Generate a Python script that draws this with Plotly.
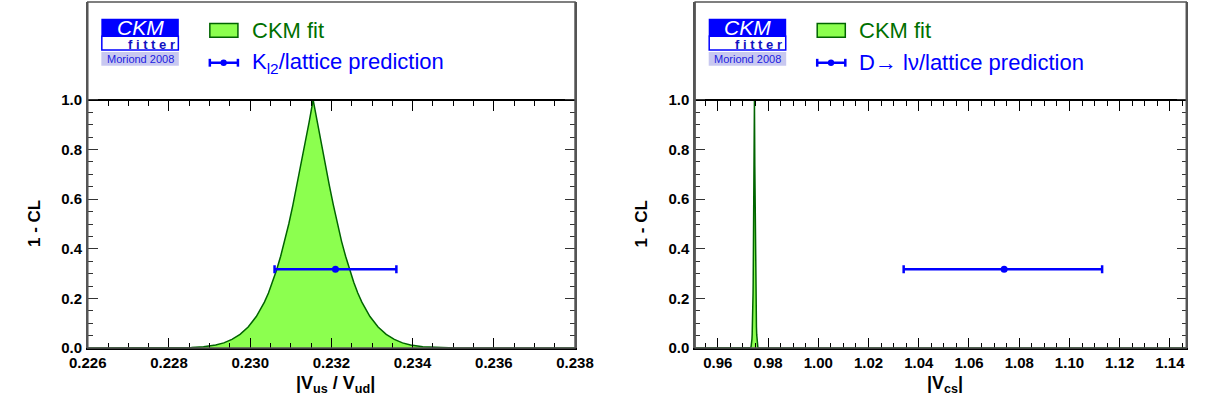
import plotly.graph_objects as go

W, H = 1214, 409

# ---------------- data ----------------
# Left panel: |Vus/Vud|, CKM fit 1-CL profile
fit_left_x = [0.2260, 0.22805, 0.22855, 0.22885, 0.22915, 0.22935, 0.22955, 0.22975, 0.22995,
              0.23015, 0.23035, 0.23045, 0.23055, 0.23065, 0.23075, 0.23085, 0.23095, 0.23105,
              0.23115, 0.23125, 0.23135, 0.23145, 0.23155, 0.23165, 0.23175, 0.23185, 0.23195,
              0.23205, 0.23215, 0.23225, 0.23235, 0.23245, 0.23255, 0.23265, 0.23275, 0.23295,
              0.23315, 0.23335, 0.23355, 0.23375, 0.23395, 0.23425, 0.23455, 0.23505, 0.2380]
fit_left_y = [0.0, 0.0, 0.002, 0.005, 0.012, 0.021, 0.035, 0.055, 0.085,
              0.127, 0.185, 0.222, 0.265, 0.315, 0.37, 0.43, 0.50, 0.575,
              0.655, 0.735, 0.82, 0.91, 1.0, 0.91, 0.82, 0.735, 0.655,
              0.575, 0.50, 0.43, 0.37, 0.315, 0.265, 0.222, 0.185, 0.127,
              0.085, 0.055, 0.035, 0.021, 0.012, 0.005, 0.002, 0.0, 0.0]

# Right panel: |Vcs|, CKM fit 1-CL profile (very narrow)
fit_right_x = [0.951, 0.97285, 0.97310, 0.97325, 0.97340, 0.97350, 0.97360, 0.97370, 0.97380,
               0.97390, 0.97400, 0.97405, 0.97410, 0.97415, 0.97420, 0.97425, 0.97430, 0.97435,
               0.97440, 0.97445, 0.97450, 0.97455, 0.97460, 0.97465, 0.97470, 0.97475, 0.97480,
               0.97485, 0.97490, 0.97495, 0.97500, 0.97505, 0.97510, 0.97515, 0.97520, 0.97530,
               0.97540, 0.97550, 0.97560, 0.97570, 0.97580, 0.97595, 0.97610, 0.97635, 1.1465]
fit_right_y = [0.0, 0.0, 0.002, 0.005, 0.012, 0.021, 0.035, 0.055, 0.085,
               0.127, 0.185, 0.222, 0.265, 0.315, 0.37, 0.43, 0.50, 0.575,
               0.655, 0.735, 0.82, 0.91, 1.0, 0.91, 0.82, 0.735, 0.655,
               0.575, 0.50, 0.43, 0.37, 0.315, 0.265, 0.222, 0.185, 0.127,
               0.085, 0.055, 0.035, 0.021, 0.012, 0.005, 0.002, 0.0, 0.0]

# Predictions (central value, lower, upper) drawn at 1-CL = 0.3173
pred_level = 0.3173
pred_left = [0.2321, 0.2306, 0.2336]
pred_right = [1.0740, 1.0340, 1.1130]

left_range = [0.226, 0.238]
right_range = [0.951, 1.1465]
left_major = [0.226, 0.228, 0.230, 0.232, 0.234, 0.236, 0.238]
left_minor = [round(0.226 + 0.0005 * i, 4) for i in range(25)]
right_major = [0.96, 0.98, 1.00, 1.02, 1.04, 1.06, 1.08, 1.10, 1.12, 1.14]
right_minor = [round(0.955 + 0.005 * i, 3) for i in range(39)]
y_major = [0.0, 0.2, 0.4, 0.6, 0.8, 1.0]
y_minor = [round(0.05 * i, 2) for i in range(21)]
y_top = 1.395

legend_fit = "CKM fit"
legend_pred_left = "K<sub>l2</sub>/lattice prediction"
legend_pred_right = "D\u2192 l\u03bd/lattice prediction"
xtitle_left = "|V<sub>us</sub> / V<sub>ud</sub>|"
xtitle_right = "|V<sub>cs</sub>|"
ytitle = "1 - CL"

# ---------------- style ----------------
GREEN_FILL = "#8cff4f"
GREEN_LINE = "#006400"
GREEN_TEXT = "#007000"
BLUE = "#0000ff"
FONT = "Liberation Sans"


def px(X):
    return X / W


def py(Y):
    return 1 - Y / H


panels = [
    dict(x0=71, x1=574, rng=left_range, major=left_major, minor=left_minor, fmt="%.3f",
         fx=fit_left_x, fy=fit_left_y, pred=pred_left, leg=legend_pred_left, xt=xtitle_left),
    dict(x0=698, x1=1205, rng=right_range, major=right_major, minor=right_minor, fmt="%.2f",
         fx=fit_right_x, fy=fit_right_y, pred=pred_right, leg=legend_pred_right, xt=xtitle_right),
]

Y0, YTOP = 355, 2
fig = go.Figure()
layout = dict(width=W, height=H, margin=dict(l=0, r=0, t=0, b=0),
              paper_bgcolor="white", plot_bgcolor="white", showlegend=False)
shapes, annotations = [], []
tickfont = dict(family=FONT, size=15, color="black", weight="bold")

for i, p in enumerate(panels):
    n = i + 1
    xa = "x" if n == 1 else "x%d" % n
    ya = "y" if n == 1 else "y%d" % n
    xtop = "x%d" % (n + 2)
    dom_x = [px(p["x0"]), px(p["x1"])]
    dom_y = [py(Y0), py(YTOP)]
    pos_top = py(Y0) + (py(YTOP) - py(Y0)) * (1.0 / y_top)

    layout["xaxis" if n == 1 else "xaxis%d" % n] = dict(
        domain=dom_x, range=p["rng"], anchor=ya, tickvals=p["major"],
        ticktext=[p["fmt"] % v for v in p["major"]], ticks="inside", ticklen=10,
        tickwidth=1, tickcolor="black", showline=True, linecolor="black", linewidth=1.5,
        showgrid=False, zeroline=False, tickfont=tickfont, ticklabelstandoff=0,
        minor=dict(tickvals=p["minor"], ticks="inside", ticklen=5, tickcolor="black", showgrid=False))
    layout["xaxis%d" % (n + 2)] = dict(
        overlaying=xa, anchor="free", position=pos_top, side="top", range=p["rng"],
        tickvals=p["major"], ticks="inside", ticklen=10, tickwidth=1, tickcolor="black",
        showticklabels=False, showline=True, linecolor="black", linewidth=1.5,
        showgrid=False, zeroline=False,
        minor=dict(tickvals=p["minor"], ticks="inside", ticklen=5, tickcolor="black", showgrid=False))
    layout["yaxis" if n == 1 else "yaxis%d" % n] = dict(
        domain=dom_y, range=[0, y_top], anchor=xa, tickvals=y_major,
        ticktext=["%.1f" % v for v in y_major], ticks="inside", ticklen=10, tickwidth=1,
        tickcolor="#333", showline=True, linecolor="#555", linewidth=1.5, mirror="ticks",
        showgrid=False, zeroline=False, tickfont=tickfont, ticklabelstandoff=1,
        minor=dict(tickvals=y_minor, ticks="inside", ticklen=5, tickcolor="#333", showgrid=False))

    # CKM fit profile
    fig.add_trace(go.Scatter(x=p["fx"], y=p["fy"], xaxis=xa, yaxis=ya, mode="lines",
                             fill="tozeroy", fillcolor=GREEN_FILL,
                             line=dict(color=GREEN_LINE, width=1.5), hoverinfo="skip"))
    # prediction with error bar
    c, lo, hi = p["pred"]
    fig.add_trace(go.Scatter(x=[c], y=[pred_level], xaxis=xa, yaxis=ya, mode="markers",
                             marker=dict(color=BLUE, size=7),
                             error_x=dict(type="data", symmetric=False, array=[hi - c],
                                          arrayminus=[c - lo], color=BLUE, thickness=2.5, width=4)))
    # dummy trace to realize the top tick axis
    fig.add_trace(go.Scatter(x=[None], y=[None], xaxis=xtop, yaxis=ya, mode="markers",
                             hoverinfo="skip"))

    # frame
    shapes.append(dict(type="rect", xref="%s domain" % xa, yref="%s domain" % ya,
                       x0=0, x1=1, y0=0, y1=1, line=dict(color="#555", width=1.5),
                       layer="above"))

    off = p["x0"] - 71
    # CKMfitter logo
    shapes.append(dict(type="rect", xref="paper", yref="paper", x0=px(85 + off), x1=px(165 + off),
                       y0=py(37), y1=py(19), fillcolor="#0000ff", line=dict(width=0)))
    shapes.append(dict(type="rect", xref="paper", yref="paper", x0=px(85.5 + off), x1=px(164.5 + off),
                       y0=py(51), y1=py(37), fillcolor="white", line=dict(color="#0000ff", width=1.5)))
    shapes.append(dict(type="rect", xref="paper", yref="paper", x0=px(85 + off), x1=px(165 + off),
                       y0=py(67), y1=py(53), fillcolor="#c8c8f0", line=dict(width=0)))
    annotations.append(dict(text="<i>CKM</i>", x=px(125 + off), y=py(28), xref="paper", yref="paper",
                            showarrow=False, xanchor="center", yanchor="middle",
                            font=dict(family=FONT, size=21, color="white")))
    annotations.append(dict(text="<b>f i t t e r</b>", x=px(163 + off), y=py(45), xref="paper",
                            yref="paper", showarrow=False, xanchor="right", yanchor="middle",
                            font=dict(family=FONT, size=13, color="#1010c0")))
    annotations.append(dict(text="Moriond 2008", x=px(125 + off), y=py(60.5), xref="paper",
                            yref="paper", showarrow=False, xanchor="center", yanchor="middle",
                            font=dict(family=FONT, size=11, color="#2020e0")))

    # legend: fit box
    shapes.append(dict(type="rect", xref="paper", yref="paper", x0=px(197 + off), x1=px(226 + off),
                       y0=py(38), y1=py(24), fillcolor=GREEN_FILL,
                       line=dict(color=GREEN_LINE, width=1.5)))
    annotations.append(dict(text=legend_fit, x=px(238 + off), y=py(31), xref="paper", yref="paper",
                            showarrow=False, xanchor="left", yanchor="middle",
                            font=dict(family=FONT, size=22, color=GREEN_TEXT)))
    # legend: error-bar symbol
    shapes.append(dict(type="line", xref="paper", yref="paper", x0=px(197 + off), x1=px(226 + off),
                       y0=py(64), y1=py(64), line=dict(color=BLUE, width=2.5)))
    for cx in (197, 226):
        shapes.append(dict(type="line", xref="paper", yref="paper", x0=px(cx + off), x1=px(cx + off),
                           y0=py(60), y1=py(68), line=dict(color=BLUE, width=2.5)))
    shapes.append(dict(type="circle", xref="paper", yref="paper", x0=px(208 + off), x1=px(214.5 + off),
                       y0=py(67.3), y1=py(60.8), fillcolor=BLUE, line=dict(width=0)))
    annotations.append(dict(text=p["leg"], x=px(238 + off), y=py(64), xref="paper", yref="paper",
                            showarrow=False, xanchor="left", yanchor="middle",
                            font=dict(family=FONT, size=22, color=BLUE)))

    # axis titles
    annotations.append(dict(text="<b>%s</b>" % p["xt"], x=(dom_x[0] + dom_x[1]) / 2 + px(4), y=py(392),
                            xref="paper", yref="paper", showarrow=False, xanchor="center",
                            yanchor="middle", font=dict(family=FONT, size=18, color="black")))
    annotations.append(dict(text="<b>%s</b>" % ytitle, x=px(p["x0"] - 55), y=py(228),
                            xref="paper", yref="paper", showarrow=False, xanchor="center",
                            yanchor="middle", textangle=-90,
                            font=dict(family=FONT, size=17, color="black")))

layout["shapes"] = shapes
layout["annotations"] = annotations
fig.update_layout(**layout)
fig.write_html("out.html")
